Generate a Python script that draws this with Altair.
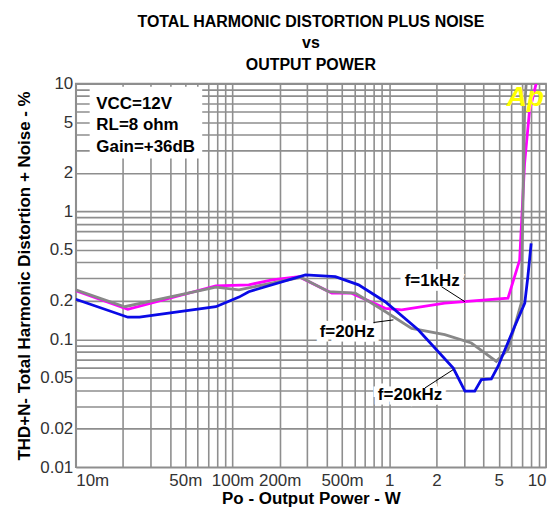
import json
import altair as alt
import pandas as pd

# ---- data (P in W, THD+N in %) ----
P_1K = [0.01, 0.0215, 0.0783, 0.127, 0.179, 0.265, 0.430, 0.575, 0.942, 1.20, 2.26, 5.72, 6.79, 7.30, 7.85, 8.24, 8.65]
T_1K = [0.24, 0.172, 0.262, 0.267, 0.292, 0.309, 0.230, 0.230, 0.175, 0.170, 0.192, 0.210, 0.417, 2.37, 6.16, 7.82, 10.0]

P_20HZ = [0.01, 0.0205, 0.0783, 0.110, 0.272, 0.411, 0.607, 0.942, 1.39, 2.26, 3.34, 4.82, 5.72, 6.95, 7.13, 7.32, 7.48]
T_20HZ = [0.244, 0.180, 0.256, 0.244, 0.306, 0.236, 0.230, 0.165, 0.122, 0.109, 0.0936, 0.0673, 0.083, 0.192, 1.16, 6.98, 10.0]

P_20K = [0.01, 0.0215, 0.0255, 0.0783, 0.110, 0.127, 0.292, 0.453, 0.637, 0.942, 1.53, 2.56, 3.04, 3.51, 3.87, 4.48, 4.94, 6.31, 7.32, 7.66, 8.04]
T_20K = [0.206, 0.149, 0.149, 0.180, 0.214, 0.236, 0.319, 0.309, 0.267, 0.197, 0.119, 0.0597, 0.0393, 0.0393, 0.0484, 0.0490, 0.0614, 0.126, 0.192, 0.309, 0.563]

SERIES = ["f=1kHz", "f=20Hz", "f=20kHz"]
COLORS = ["#ff00ff", "#888888", "#0a0ae6"]

# annotation labels (data coordinates) and their leader lines
ANN_TEXT = ["f=1kHz", "f=20Hz", "f=20kHz"]
ANN_P = [1.88, 0.539, 1.358]
ANN_T = [0.286, 0.1135, 0.037]
LEAD_P1 = [2.157, 0.794, 1.69]
LEAD_T1 = [0.258, 0.1355, 0.0417]
LEAD_P2 = [3.04, 1.063, 2.56]
LEAD_T2 = [0.197, 0.142, 0.058]

BOX_LINES = ["VCC=12V", "RL=8 ohm", "Gain=+36dB"]
BOX_LINE_P = [0.01353, 0.01353, 0.01353]
BOX_LINE_T = [6.95, 4.71, 3.19]
BOX_P = [0.01227, 0.0641]
BOX_T = [2.60, 9.47]

LOGO_TEXT = ["Ap"]
LOGO_P = [7.39]
LOGO_T = [7.71]

GRID_VALS = [round(m * 10 ** e, 6) for e in (-2, -1, 0) for m in range(1, 10)] + [10]
X_LABEL_VALS = [0.01, 0.05, 0.1, 0.2, 0.5, 1, 2, 5, 10]
Y_LABEL_VALS = [0.01, 0.02, 0.05, 0.1, 0.2, 0.5, 1, 2, 5, 10]

# ---- tables ----
rows = []
for name, ps, ts in [("f=1kHz", P_1K, T_1K), ("f=20Hz", P_20HZ, T_20HZ), ("f=20kHz", P_20K, T_20K)]:
    for i, (p, t) in enumerate(zip(ps, ts)):
        rows.append({"series": name, "P": p, "T": t, "i": i})
df = pd.DataFrame(rows)

ann_df = pd.DataFrame({"label": ANN_TEXT, "P": ANN_P, "T": ANN_T})
lead_df = pd.DataFrame({"P": LEAD_P1, "T": LEAD_T1, "P2": LEAD_P2, "T2": LEAD_T2})
box_df = pd.DataFrame({"P": [BOX_P[0]], "P2": [BOX_P[1]], "T": [BOX_T[0]], "T2": [BOX_T[1]]})
boxtxt_df = pd.DataFrame({"label": BOX_LINES, "P": BOX_LINE_P, "T": BOX_LINE_T})
logo_df = pd.DataFrame({"label": LOGO_TEXT, "P": LOGO_P, "T": LOGO_T})

FONT = "Liberation Sans"
GRID = "#8e8e8e"

x_expr = ("indexof(%s, datum.value) < 0 ? '' : (datum.value < 1 ? format(datum.value*1000, 'd') + 'm' "
          ": format(datum.value, 'd'))") % json.dumps(X_LABEL_VALS)
y_expr = "indexof(%s, datum.value) < 0 ? '' : toString(datum.value)" % json.dumps(Y_LABEL_VALS)

xscale = alt.Scale(type="log", domain=[0.01, 10], nice=False)
yscale = alt.Scale(type="log", domain=[0.01, 10], nice=False)

xaxis = alt.Axis(values=GRID_VALS, labelExpr=x_expr, labelFlush=True, labelOverlap=False,
                 grid=True, gridColor=GRID, gridWidth=1.6, domain=False, ticks=False,
                 labelFont=FONT, labelFontSize=17, labelColor="#333333", labelPadding=5,
                 title="Po - Output Power - W", titleFont=FONT, titleFontSize=17,
                 titleFontWeight="bold", titleColor="black", titlePadding=2)
yaxis = alt.Axis(values=GRID_VALS, labelExpr=y_expr, labelOverlap=False,
                 grid=True, gridColor=GRID, gridWidth=1.6, domain=False, ticks=False,
                 labelFont=FONT, labelFontSize=17, labelColor="#333333", labelPadding=3,
                 title="THD+N- Total Harmonic Distortion + Noise - %", titleFont=FONT,
                 titleFontSize=17, titleFontWeight="bold", titleColor="black", titlePadding=6)

X = alt.X("P:Q", scale=xscale, axis=xaxis)
Y = alt.Y("T:Q", scale=yscale, axis=yaxis)

box = alt.Chart(box_df).mark_rect(fill="white").encode(x=X, x2="P2:Q", y=Y, y2="T2:Q")

halo = alt.Chart(ann_df).mark_text(font=FONT, fontSize=17, fontWeight="bold", color="white",
                                   stroke="white", strokeWidth=9).encode(x=X, y=Y, text="label:N")

def series_line(name, color):
    return (alt.Chart(df).transform_filter(alt.datum.series == name)
            .mark_line(strokeWidth=2.8, color=color, clip=True)
            .encode(x=X, y=Y, order="i:Q"))

lines = [series_line(n, c) for n, c in zip(SERIES, COLORS)]

leads = alt.Chart(lead_df).mark_rule(color="black", strokeWidth=1).encode(x=X, y=Y, x2="P2:Q", y2="T2:Q")

ann = alt.Chart(ann_df).mark_text(font=FONT, fontSize=17, fontWeight="bold", color="black").encode(
    x=X, y=Y, text="label:N")

boxtxt = alt.Chart(boxtxt_df).mark_text(font=FONT, fontSize=17, fontWeight="bold", color="black",
                                         align="left").encode(x=X, y=Y, text="label:N")

logo = alt.Chart(logo_df).mark_text(font=FONT, fontSize=28, fontWeight="bold", fontStyle="italic",
                                    color="#ffff00").encode(x=X, y=Y, text="label:N")

chart = alt.layer(box, halo, *lines, leads, ann, boxtxt, logo).properties(
    width=541, height=499,
    autosize=alt.AutoSizeParams(type="fit", contains="padding"),
    padding={"left": 7, "top": 5, "right": 1, "bottom": 0},
    title=alt.TitleParams(["TOTAL HARMONIC DISTORTION PLUS NOISE", "vs", "OUTPUT POWER"],
                          font=FONT, fontSize=16, fontWeight="bold", lineHeight=21.5,
                          anchor="middle", color="black", offset=2),
).configure_view(stroke=GRID, strokeWidth=1.6)

chart.save("out.html", embed_options={"renderer": "svg", "actions": False})
